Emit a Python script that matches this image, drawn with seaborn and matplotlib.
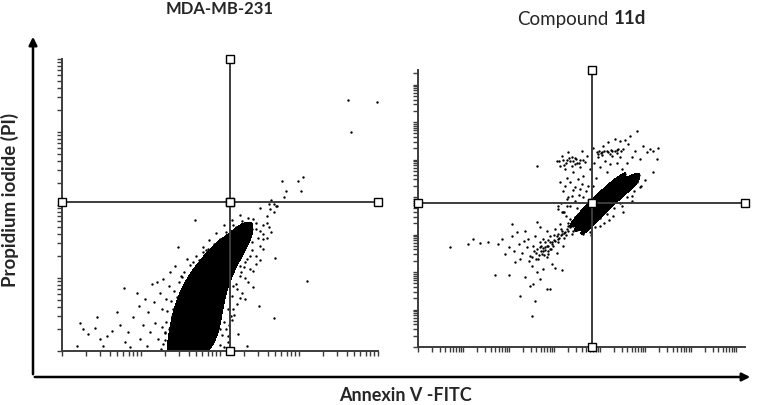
import numpy as np
import pandas as pd
import matplotlib
matplotlib.use("Agg")
import matplotlib.pyplot as plt
import seaborn as sns
from matplotlib.colors import ListedColormap
from matplotlib.patches import FancyArrowPatch

# all values are log10 fluorescence (Annexin V-FITC, PI)
ctrl_range = (4.0, 4.0)
ctrl_gate = (2.13, 2.04)
cmpd_range = (7.19, 7.39)
cmpd_gate = (3.82, 3.84)

# MDA-MB-231 control
ctrl_core = [(1.40, 0.03), (1.55, 0.03), (1.70, 0.03), (1.85, 0.03),
             (1.38, 0.12), (1.55, 0.12), (1.72, 0.12), (1.90, 0.12),
             (1.40, 0.35), (1.57, 0.35), (1.75, 0.35), (1.95, 0.35),
             (1.45, 0.58), (1.62, 0.58), (1.82, 0.58), (2.00, 0.58),
             (1.52, 0.80), (1.70, 0.80), (1.88, 0.80), (2.04, 0.80),
             (1.62, 1.03), (1.78, 1.03), (1.94, 1.03), (2.08, 1.03),
             (1.78, 1.26), (1.92, 1.26), (2.05, 1.26), (2.16, 1.26),
             (1.98, 1.49), (2.12, 1.49), (2.26, 1.49), (2.34, 1.49),
             (2.25, 1.67), (2.40, 1.67)]
ctrl_tail = [(0.23, 0.39), (0.27, 0.30), (0.33, 0.23), (0.19, 0.07), (0.42, 0.32), (0.44, 0.46),
             (0.48, 0.16), (0.52, 0.07), (0.57, 0.21), (0.63, 0.28), (0.69, 0.53), (0.73, 0.35),
             (0.78, 0.86), (0.80, 0.12), (0.84, 0.26), (0.86, 0.05), (0.90, 0.46), (0.95, 0.80),
             (0.97, 0.62), (0.99, 0.16), (1.03, 0.35), (1.05, 0.71), (1.07, 0.07), (1.09, 0.53),
             (1.11, 0.26), (1.14, 0.92), (1.16, 0.67), (1.18, 0.39), (1.20, 0.94), (1.22, 0.16),
             (1.24, 0.80), (1.26, 0.58), (1.28, 0.99), (1.30, 0.26), (1.32, 0.71), (1.35, 0.89),
             (1.37, 1.08), (1.39, 0.48), (1.41, 0.07), (1.43, 1.17), (1.47, 1.43), (1.51, 1.03),
             (1.58, 1.26), (1.68, 1.80), (1.73, 1.24), (1.79, 1.35), (1.85, 1.40), (1.92, 1.47),
             (2.00, 1.53), (2.08, 1.63), (2.17, 1.72), (2.25, 1.17), (2.34, 1.26), (2.42, 1.81),
             (2.46, 1.67), (2.51, 1.44), (2.55, 1.53), (2.59, 1.76), (2.63, 1.95), (2.68, 1.90),
             (2.72, 1.99), (2.65, 1.63), (2.70, 1.28), (2.42, 0.87), (2.49, 0.62), (2.32, 0.71),
             (2.17, 0.58), (2.23, 0.23), (2.34, 0.07), (2.68, 0.45), (3.10, 0.96), (2.17, 0.89),
             (2.25, 1.03), (2.13, 1.21), (2.38, 1.12), (2.46, 1.19)]
ctrl_halo = [(1.35, 0.05), (1.38, 0.20), (1.40, 0.35), (1.44, 0.50), (1.47, 0.65), (1.52, 0.78),
             (1.58, 0.90), (1.64, 1.00), (1.72, 1.10), (1.80, 1.20), (1.88, 1.30), (1.96, 1.40),
             (2.04, 1.50), (2.12, 1.60), (2.20, 1.70), (2.28, 1.78), (1.42, 0.12), (1.36, 0.30),
             (1.50, 0.45), (1.55, 0.62), (1.60, 0.80), (1.70, 0.95), (2.05, 0.05), (2.10, 0.20),
             (2.12, 0.35), (2.18, 0.50), (2.22, 0.65), (2.28, 0.80), (2.35, 0.95), (2.42, 1.10),
             (2.50, 1.25), (2.55, 1.40), (2.60, 1.55), (2.62, 1.70), (2.10, 0.12), (2.15, 0.42),
             (2.25, 0.72), (2.32, 1.00), (2.45, 1.30), (2.55, 1.60), (2.00, 0.30), (2.40, 1.50),
             (1.28, 0.10), (1.30, 0.25), (1.32, 0.40), (1.33, 0.55), (1.38, 0.68), (1.42, 0.82),
             (1.48, 0.95), (1.55, 1.08), (1.62, 1.18), (1.70, 1.30), (1.78, 1.42), (1.86, 1.52),
             (1.95, 1.62), (2.05, 1.72), (2.15, 1.80), (2.25, 1.86), (1.25, 0.03), (1.31, 0.15),
             (1.27, 0.33), (1.40, 0.58), (1.45, 0.74), (1.52, 1.02), (1.66, 1.22), (1.82, 1.38),
             (2.00, 0.08), (2.02, 0.22), (2.05, 0.40), (2.10, 0.58), (2.15, 0.76), (2.20, 0.92),
             (2.26, 1.08), (2.32, 1.22), (2.40, 1.38), (2.48, 1.55), (2.55, 1.72), (2.60, 1.85),
             (2.08, 0.30), (2.14, 0.48), (2.22, 0.85), (2.30, 1.15), (2.38, 1.30), (2.50, 1.65),
             (2.45, 1.75), (2.35, 1.82)]
ctrl_upper = [(3.62, 3.44), (3.99, 3.41), (3.66, 3.00), (2.78, 2.33), (2.99, 2.33), (3.05, 2.39),
              (2.84, 2.19), (3.03, 2.19), (2.81, 2.11), (2.64, 2.07), (2.62, 2.01), (2.68, 2.01),
              (2.71, 1.99), (2.50, 1.96)]

# Compound 11d
cmpd_core = [(3.50, 3.12), (3.62, 3.30), (3.75, 3.48), (3.90, 3.67), (4.05, 3.85), (4.20, 4.03),
             (4.36, 4.20), (4.52, 4.36), (4.68, 4.50), (4.85, 4.60),
             (3.37, 3.23), (3.49, 3.41), (3.62, 3.59), (3.77, 3.78), (3.92, 3.96), (4.07, 4.14),
             (4.23, 4.31), (4.39, 4.47), (4.55, 4.61),
             (3.63, 3.01), (3.75, 3.19), (3.88, 3.37), (4.03, 3.56), (4.18, 3.74), (4.33, 3.92),
             (4.49, 4.09), (4.65, 4.25), (4.81, 4.39)]
cmpd_band = [(2.50, 2.40), (2.60, 2.50), (2.70, 2.55), (2.75, 2.65), (2.85, 2.70), (2.90, 2.80),
             (3.00, 2.85), (3.05, 2.95), (3.15, 3.00), (3.20, 3.05), (3.30, 3.10), (3.35, 3.20),
             (3.42, 3.25), (2.65, 2.45), (2.80, 2.60), (2.95, 2.75), (3.10, 2.90), (3.25, 3.00),
             (3.40, 3.10), (2.55, 2.55), (2.70, 2.70), (2.85, 2.85), (3.00, 3.00), (3.15, 3.15),
             (3.30, 3.30), (2.45, 2.30), (2.60, 2.35), (2.78, 2.45), (2.92, 2.62), (3.08, 2.80),
             (3.22, 2.92), (3.38, 3.02), (4.00, 3.45), (4.15, 3.55), (4.30, 3.70), (4.45, 3.85),
             (4.60, 4.00), (4.75, 4.15), (4.90, 4.30), (4.20, 3.40), (3.90, 3.20), (4.50, 3.60),
             (5.00, 4.45), (4.70, 3.90), (3.80, 3.00), (4.10, 3.30), (3.20, 3.60), (3.35, 3.75),
             (3.45, 3.90), (3.55, 4.05), (3.70, 4.15), (3.85, 4.30), (3.30, 4.00), (3.15, 3.85),
             (3.60, 4.35), (3.40, 4.20), (3.25, 3.50), (3.50, 3.70)]
cmpd_upper = [(3.34, 4.97), (3.45, 5.03), (3.56, 5.00), (3.67, 4.94), (3.93, 5.19), (4.04, 5.21),
              (4.15, 5.23), (4.26, 5.24), (4.37, 5.26), (4.44, 5.50), (4.55, 5.53), (3.05, 4.97),
              (3.12, 4.84), (3.16, 5.10), (3.23, 4.75), (3.27, 4.52), (3.30, 5.19), (3.34, 4.39),
              (3.38, 4.84), (3.41, 4.66), (3.45, 4.26), (3.49, 4.92), (3.52, 4.48), (3.56, 4.79),
              (3.60, 5.24), (3.63, 4.57), (3.71, 5.10), (3.74, 4.30), (3.78, 4.75), (3.84, 5.32),
              (3.87, 4.92), (3.91, 4.52), (3.96, 5.06), (4.00, 4.79), (4.06, 5.37), (4.11, 4.97),
              (4.15, 4.66), (4.18, 5.46), (4.22, 4.88), (4.26, 5.10), (4.29, 4.44), (4.33, 5.55),
              (4.37, 4.92), (4.44, 5.06), (4.48, 4.75), (4.51, 5.28), (4.59, 4.92), (4.62, 5.41),
              (4.66, 5.64), (4.70, 5.06), (4.77, 5.24), (4.81, 5.77), (4.88, 5.01), (4.95, 5.37),
              (5.03, 5.19), (5.10, 5.28), (5.17, 5.24), (5.25, 5.01), (5.28, 5.30), (3.12, 4.39),
              (3.19, 4.17), (3.27, 3.95), (3.38, 4.04), (3.08, 3.77), (3.16, 3.59), (3.23, 4.30),
              (3.56, 4.21), (3.63, 3.99), (2.61, 4.84), (4.70, 4.02), (4.88, 4.26), (5.17, 4.66),
              (4.48, 3.77), (4.29, 3.50), (4.00, 3.24), (3.78, 3.06),
              (3.10, 4.95), (3.18, 5.00), (3.25, 4.90), (3.32, 5.05), (3.40, 4.95), (3.48, 5.02),
              (3.55, 4.92), (3.62, 4.98), (3.20, 4.85), (3.45, 4.88), (3.38, 5.08), (3.28, 5.00),
              (3.95, 5.15), (4.02, 5.18), (4.10, 5.22), (4.18, 5.20), (4.25, 5.25), (4.33, 5.22),
              (4.40, 5.27), (4.47, 5.24), (4.05, 5.12), (4.22, 5.15), (4.38, 5.18), (3.98, 5.22)]
cmpd_lower = [(0.70, 2.66), (1.11, 2.75), (1.22, 2.88), (1.36, 2.77), (1.55, 2.81), (1.77, 2.75),
              (1.84, 2.88), (1.91, 2.48), (1.99, 2.66), (2.06, 2.97), (2.10, 2.57), (2.17, 3.06),
              (2.21, 2.75), (2.24, 2.35), (2.28, 2.52), (2.32, 2.84), (2.35, 3.10), (2.39, 2.66),
              (2.42, 2.88), (2.46, 2.44), (2.50, 2.17), (2.53, 2.70), (2.57, 2.97), (2.61, 2.61),
              (2.64, 2.35), (2.68, 2.79), (2.72, 2.48), (2.75, 2.88), (2.79, 2.66), (2.83, 2.39),
              (2.86, 2.57), (2.90, 2.97), (2.94, 2.21), (2.97, 2.70), (3.01, 3.15), (3.05, 2.52),
              (3.08, 2.88), (3.12, 3.28), (3.16, 3.01), (3.19, 2.70), (3.27, 3.15), (3.34, 3.41),
              (3.41, 3.24), (3.49, 3.32), (2.61, 1.99), (2.68, 1.81), (2.75, 2.08), (2.53, 1.68),
              (2.83, 1.55), (2.90, 1.56), (2.24, 1.35), (2.46, 1.62), (2.57, 1.24), (2.50, 0.82),
              (1.69, 1.93), (1.99, 1.93), (2.35, 1.88), (3.16, 2.06), (3.01, 2.12), (2.13, 2.26),
              (2.06, 3.28), (2.61, 3.33), (2.68, 3.19), (2.83, 3.10), (3.08, 3.68), (3.19, 3.59),
              (3.27, 3.77), (2.68, 2.66), (2.75, 2.57), (2.83, 2.70), (2.90, 2.61), (2.94, 2.79),
              (3.01, 2.84), (2.79, 2.79), (2.86, 2.48), (3.08, 3.01), (3.16, 3.10), (3.23, 3.06),
              (3.30, 3.24), (3.38, 3.32), (3.45, 3.46), (3.52, 3.55), (3.60, 3.59)]


def to_df(*groups):
    pts = [p for g in groups for p in g]
    return pd.DataFrame(pts, columns=["fitc", "pi"])


sns.set_style("white")
plt.rcParams["font.family"] = ["Lato", "DejaVu Sans"]

fig = plt.figure(figsize=(7.57, 4.06), dpi=100)
ax1 = fig.add_axes([62 / 757, 1 - 352 / 406, 316 / 757, 292 / 406])
ax2 = fig.add_axes([418 / 757, 1 - 348 / 406, 327 / 757, 277 / 406])

black = ListedColormap(["black"])
line_col = "#3c3c3c"


def draw_panel(ax, core, dots, rng, gate, bw, lev):
    sns.kdeplot(data=to_df(core), x="fitc", y="pi", fill=True, levels=[lev, 1],
                cmap=black, bw_adjust=bw, gridsize=250, ax=ax)
    sns.scatterplot(data=to_df(core, dots), x="fitc", y="pi", s=3, color="black",
                    linewidth=0, ax=ax)
    ax.set_xlim(0, rng[0])
    ax.set_ylim(0, rng[1])
    # quadrant gate
    ax.plot([0, gate[0], rng[0]], [gate[1]] * 3, color=line_col, lw=1.4, marker="s", ms=6,
            mfc="white", mec="black", mew=1, clip_on=False, zorder=5)
    ax.plot([gate[0]] * 3, [0, gate[1], rng[1]], color=line_col, lw=1.4, marker="s", ms=6,
            mfc="white", mec="black", mew=1, clip_on=False, zorder=5)
    # log decade ticks
    for lim, axis in ((rng[0], ax.xaxis), (rng[1], ax.yaxis)):
        dec = np.arange(0, np.floor(lim) + 1)
        minor = [d + np.log10(k) for d in dec for k in range(2, 10) if d + np.log10(k) < lim]
        axis.set_ticks(dec)
        axis.set_ticks(minor, minor=True)
        axis.set_ticklabels([])
    ax.tick_params(which="both", direction="out", length=3.5, width=1, color=line_col,
                   bottom=True, left=True)
    ax.set_xlabel("")
    ax.set_ylabel("")
    for side in ("top", "right"):
        ax.spines[side].set_visible(False)
    for side in ("left", "bottom"):
        ax.spines[side].set_color(line_col)
        ax.spines[side].set_linewidth(1.4)


draw_panel(ax1, ctrl_core, ctrl_tail + ctrl_halo + ctrl_upper, ctrl_range, ctrl_gate, 0.85, 0.3)
draw_panel(ax2, cmpd_core, cmpd_band + cmpd_upper + cmpd_lower, cmpd_range, cmpd_gate, 0.8, 0.28)

# outer arrows
fig.add_artist(FancyArrowPatch((33 / 757, 1 - 378 / 406), (33 / 757, 1 - 35 / 406),
                               transform=fig.transFigure, arrowstyle="-|>", mutation_scale=12,
                               lw=1.8, color="black"))
fig.add_artist(FancyArrowPatch((32 / 757, 1 - 378 / 406), (753 / 757, 1 - 378 / 406),
                               transform=fig.transFigure, arrowstyle="-|>", mutation_scale=12,
                               lw=1.8, color="black"))

fig.text(220 / 757, 1 - 9 / 406, "MDA-MB-231", ha="center", va="center", fontsize=12,
         fontweight="bold")
fig.text(609 / 757, 1 - 19 / 406, "Compound", ha="right", va="center", fontsize=13.5)
fig.text(614 / 757, 1 - 19 / 406, "11d", ha="left", va="center", fontsize=13.5,
         fontweight="bold")
fig.text(405 / 757, 1 - 396 / 406, "Annexin V -FITC", ha="center", va="center", fontsize=13,
         fontweight="bold")
fig.text(10 / 757, 1 - 200 / 406, "Propidium iodide (PI)", ha="center", va="center",
         fontsize=13.5, fontweight="bold", rotation=90)

fig.savefig("out.png", dpi=100)
